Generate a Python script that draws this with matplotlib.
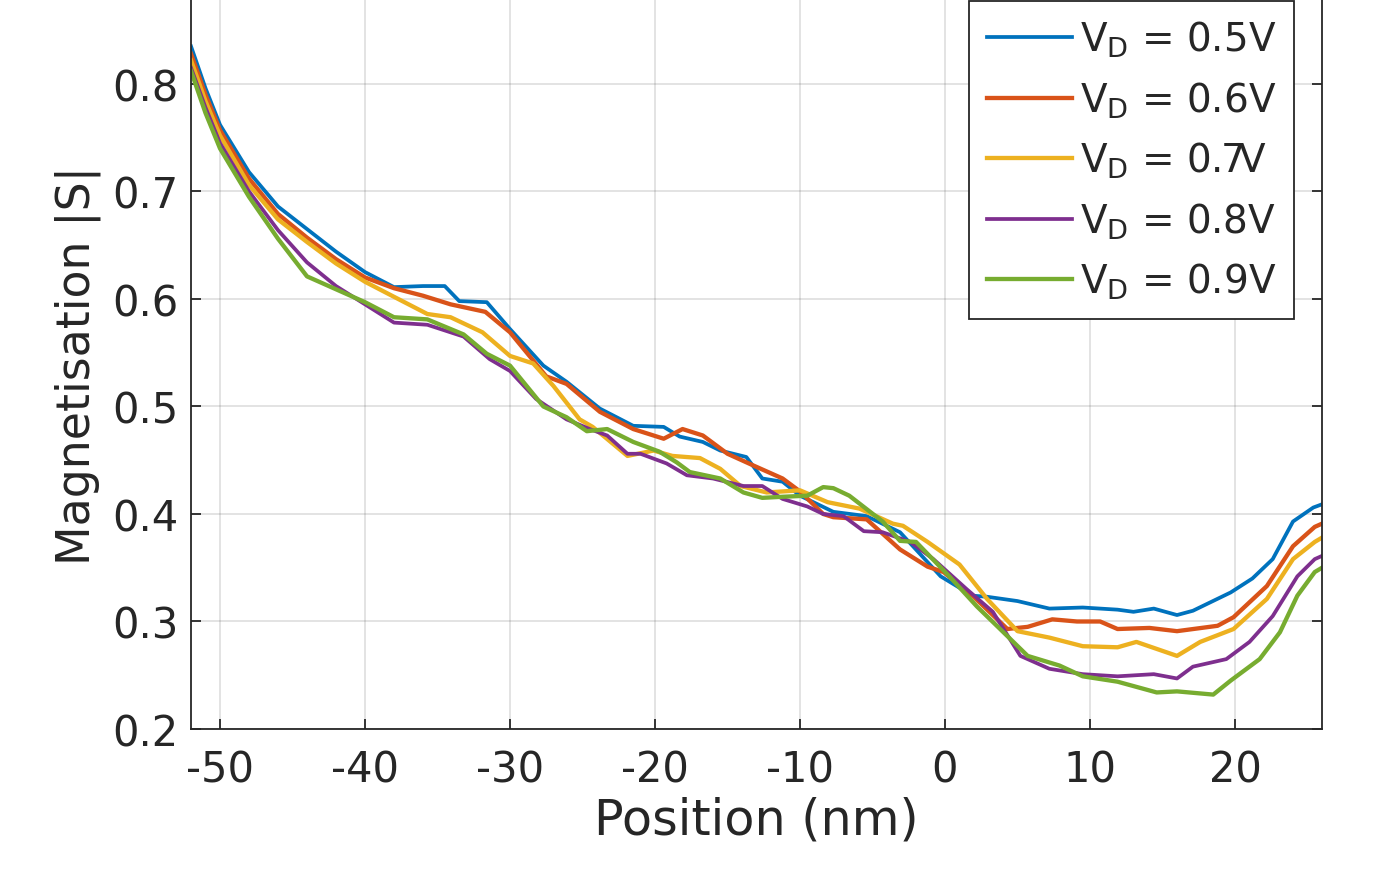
import matplotlib
matplotlib.use('Agg')
import matplotlib.pyplot as plt

plt.rcParams['font.family'] = ['DejaVu Sans']
plt.rcParams['axes.unicode_minus'] = False

# position (nm) / |S|
x_05 = [-52, -51, -50, -48, -46, -44, -42, -40, -38, -36, -34.5, -33.5, -31.6, -30, -27.7, -26.1, -23.8,
        -21.5, -19.4, -18.3, -16.7, -15.5, -13.7, -12.6, -11.2, -10, -7.7, -5.4, -3.1, -0.3, 1.9, 2.9,
        5.0, 7.2, 9.5, 11.9, 13.0, 14.4, 16.0, 17.1, 19.7, 21.2, 22.6, 24.0, 25.4, 26]
s_05 = [0.835, 0.796, 0.762, 0.718, 0.686, 0.665, 0.644, 0.625, 0.611, 0.612, 0.612, 0.598, 0.597, 0.572,
        0.538, 0.523, 0.498, 0.482, 0.481, 0.472, 0.467, 0.459, 0.453, 0.433, 0.430, 0.417, 0.402, 0.398,
        0.383, 0.342, 0.324, 0.323, 0.319, 0.312, 0.313, 0.311, 0.309, 0.312, 0.306, 0.310, 0.327, 0.340,
        0.358, 0.393, 0.406, 0.409]

x_06 = [-52, -51, -50, -48, -46, -44, -42, -40, -38, -36, -34.1, -31.7, -30, -27.5, -26.1, -23.8, -21.5,
        -19.4, -18.1, -16.7, -15.0, -13.2, -11.2, -10, -8.4, -7.7, -5.4, -3.1, -1.2, -0.1, 1.9, 4.3, 5.7,
        7.4, 9.1, 10.7, 11.9, 14.1, 16.0, 18.8, 19.9, 22.2, 24.0, 25.5, 26]
s_06 = [0.828, 0.790, 0.757, 0.712, 0.679, 0.657, 0.637, 0.620, 0.610, 0.603, 0.595, 0.588, 0.569, 0.528,
        0.521, 0.495, 0.479, 0.470, 0.479, 0.473, 0.456, 0.445, 0.433, 0.421, 0.400, 0.397, 0.395, 0.367,
        0.351, 0.346, 0.324, 0.293, 0.295, 0.302, 0.300, 0.300, 0.293, 0.294, 0.291, 0.296, 0.304, 0.333,
        0.370, 0.388, 0.391]

x_07 = [-52, -51, -50, -48, -46, -44, -42, -40, -38, -35.7, -34.1, -31.9, -30, -28.4, -27, -25.2, -24.3,
        -21.9, -20.1, -18.8, -16.9, -15.5, -14.1, -12.3, -10, -8.1, -5.9, -3.6, -2.9, -1.2, 1.0, 2.9, 5.0,
        7.2, 9.5, 11.9, 13.2, 16.0, 17.6, 19.9, 22.2, 24.0, 25.5, 26]
s_07 = [0.822, 0.784, 0.752, 0.706, 0.674, 0.653, 0.633, 0.616, 0.602, 0.586, 0.583, 0.569, 0.547, 0.540,
        0.519, 0.488, 0.481, 0.454, 0.459, 0.454, 0.452, 0.442, 0.426, 0.420, 0.422, 0.411, 0.405, 0.391,
        0.389, 0.374, 0.353, 0.321, 0.291, 0.285, 0.277, 0.276, 0.281, 0.268, 0.281, 0.293, 0.321, 0.358,
        0.374, 0.378]

x_08 = [-52, -51, -50, -48, -46, -44, -42, -40, -38, -35.7, -33.2, -31.4, -30, -28.2, -26.1, -24.5, -23.3,
        -21.9, -21, -19.2, -17.8, -16, -13.9, -12.6, -11.2, -9.5, -8.4, -7.0, -5.6, -4.3, -2.4, -0.8, 1.5,
        3.3, 5.2, 7.2, 9.5, 11.9, 14.4, 16.0, 17.1, 19.4, 21.0, 22.6, 24.3, 25.5, 26]
s_08 = [0.815, 0.778, 0.745, 0.700, 0.664, 0.634, 0.612, 0.595, 0.578, 0.576, 0.565, 0.544, 0.533, 0.507,
        0.488, 0.479, 0.473, 0.456, 0.456, 0.447, 0.436, 0.433, 0.426, 0.426, 0.414, 0.407, 0.400, 0.398,
        0.384, 0.383, 0.374, 0.358, 0.330, 0.309, 0.268, 0.256, 0.251, 0.249, 0.251, 0.247, 0.258, 0.265,
        0.281, 0.305, 0.342, 0.358, 0.361]

x_09 = [-52, -51, -50, -48, -46, -44, -42, -40, -38, -35.7, -33.2, -31.6, -30, -27.7, -26.1, -24.7, -23.3,
        -21.5, -19.7, -18.5, -17.6, -15.5, -13.9, -12.6, -11.2, -9.5, -8.4, -7.7, -6.6, -4.3, -3.1, -2.0,
        0.3, 2.2, 3.8, 5.7, 7.9, 9.5, 11.9, 14.6, 16.0, 18.5, 19.7, 21.7, 23.1, 24.3, 25.5, 26]
s_09 = [0.812, 0.773, 0.740, 0.695, 0.656, 0.621, 0.609, 0.597, 0.583, 0.581, 0.567, 0.549, 0.538, 0.500,
        0.490, 0.477, 0.479, 0.467, 0.458, 0.448, 0.439, 0.433, 0.420, 0.415, 0.416, 0.417, 0.425, 0.424,
        0.417, 0.393, 0.375, 0.374, 0.342, 0.314, 0.293, 0.268, 0.259, 0.249, 0.244, 0.234, 0.235, 0.232,
        0.245, 0.265, 0.290, 0.324, 0.346, 0.350]

labels = [r'V$_\mathregular{D}$ = 0.5V', r'V$_\mathregular{D}$ = 0.6V', r'V$_\mathregular{D}$ = 0.7V',
          r'V$_\mathregular{D}$ = 0.8V', r'V$_\mathregular{D}$ = 0.9V']
colors = ['#0072BD', '#D95319', '#EDB120', '#7E2F8E', '#77AC30']
widths = [2.7, 3.1, 3.1, 2.7, 3.1]

xs = [x_05, x_06, x_07, x_08, x_09]
ss = [s_05, s_06, s_07, s_08, s_09]

fig = plt.figure(figsize=(13.8, 8.7), dpi=100)
ax = fig.add_axes([191 / 1380, 140 / 870, 1131 / 1380, 730 / 870])

for x, s, lab, c, w in zip(xs, ss, labels, colors, widths):
    ax.plot(x, s, color=c, lw=w, label=lab)

ax.set_xlim(-52, 26)
ax.set_ylim(0.2, 0.879)
ax.set_xticks([-50, -40, -30, -20, -10, 0, 10, 20])
ax.set_yticks([0.2, 0.3, 0.4, 0.5, 0.6, 0.7, 0.8])
ax.set_yticklabels(['0.2', '0.3', '0.4', '0.5', '0.6', '0.7', '0.8'])
ax.grid(True, color='#262626', alpha=0.15, lw=1.2)

dark = '#262626'
for side in ['left', 'right', 'bottom']:
    ax.spines[side].set_color(dark)
    ax.spines[side].set_linewidth(1.3)
ax.spines['top'].set_visible(False)
ax.tick_params(direction='in', length=7, width=1.3, color=dark, labelcolor=dark,
               labelsize=30, right=True, top=False)
ax.tick_params(axis='x', pad=14)
ax.tick_params(axis='y', pad=9)

ax.set_xlabel('Position (nm)', fontsize=35.5, color=dark, labelpad=4)
ax.set_ylabel('Magnetisation |S|', fontsize=33, color=dark, labelpad=8)

leg = ax.legend(loc='upper right', bbox_to_anchor=(0.975, 0.997), borderaxespad=0,
                fontsize=28, frameon=True, fancybox=False, handlelength=2.2,
                handletextpad=0.2, labelspacing=0.52, borderpad=0.45)
leg.get_frame().set_edgecolor(dark)
leg.get_frame().set_linewidth(1.3)
leg.get_frame().set_alpha(1)
for t in leg.get_texts():
    t.set_color(dark)

fig.savefig('out.png', dpi=100)
